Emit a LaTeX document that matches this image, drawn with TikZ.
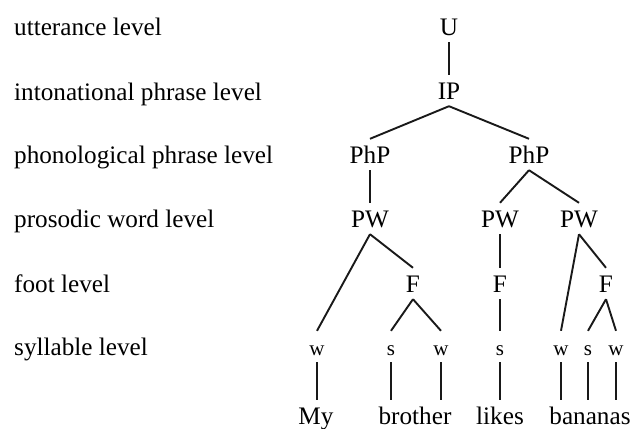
\documentclass[tikz,border=0pt]{standalone}
\usepackage{fontspec}
\setmainfont{Liberation Serif}
\begin{document}
\begin{tikzpicture}[x=1pt,y=-1pt,
  lbl/.style={anchor=base west,inner sep=0pt,font=\fontsize{25.2}{30}\selectfont},
  tn/.style={anchor=base,inner xsep=0pt,inner ysep=7pt,text height=17pt,text depth=0pt,font=\fontsize{25.2}{30}\selectfont},
  syl/.style={tn,font=\fontsize{21}{25}\selectfont},
  br/.style={line width=1.9pt,black!90}]
\useasboundingbox (0,0) rectangle (633,429);
% level labels
\node[lbl] (l1) at (14,35) {utterance level};
\node[lbl] (l2) at (14,100) {intonational phrase level};
\node[lbl] (l3) at (14,163) {phonological phrase level};
\node[lbl] (l4) at (14,227) {prosodic word level};
\node[lbl] (l5) at (14,292) {foot level};
\node[lbl] (l6) at (14,355) {syllable level};
% tree
\node[tn] (U) at (449,35) {U};
\node[tn] (IP) at (449,99) {IP};
\node[tn] (php1) at (370,163) {PhP};
\node[tn] (php2) at (529,163) {PhP};
\node[tn] (pw1) at (370,227) {PW};
\node[tn] (pw2) at (500,227) {PW};
\node[tn] (pw3) at (579,227) {PW};
\node[tn] (f1) at (413,292) {F};
\node[tn] (f2) at (500,292) {F};
\node[tn] (f3) at (606,292) {F};
\node[syl] (s1) at (317,355) {w};
\node[syl] (s2) at (391,355) {s};
\node[syl] (s3) at (441,355) {w};
\node[syl] (s4) at (500,355) {s};
\node[syl] (s5) at (561,355) {w};
\node[syl] (s6) at (588,355) {s};
\node[syl] (s7) at (616,355) {w};
\node[tn] (my) at (316,424) {My};
\node[tn] (brother) at (415,424) {brother};
\node[tn] (likes) at (500,424) {likes};
\node[tn] (bananas) at (590,424) {bananas};
% branches
\draw[br] (U.south) -- (IP.north);
\draw[br] (IP.south) -- (php1.north);
\draw[br] (IP.south) -- (php2.north);
\draw[br] (php1.south) -- (pw1.north);
\draw[br] (php2.south) -- (pw2.north);
\draw[br] (php2.south) -- (pw3.north);
\draw[br] (pw1.south) -- (s1.north);
\draw[br] (pw1.south) -- (f1.north);
\draw[br] (pw2.south) -- (f2.north);
\draw[br] (pw3.south) -- (s5.north);
\draw[br] (pw3.south) -- (f3.north);
\draw[br] (f1.south) -- (s2.north);
\draw[br] (f1.south) -- (s3.north);
\draw[br] (f2.south) -- (s4.north);
\draw[br] (f3.south) -- (s6.north);
\draw[br] (f3.south) -- (s7.north);
\draw[br] (s1.south) -- (s1.south |- my.north);
\draw[br] (s2.south) -- (s2.south |- brother.north);
\draw[br] (s3.south) -- (s3.south |- brother.north);
\draw[br] (s4.south) -- (s4.south |- likes.north);
\draw[br] (s5.south) -- (s5.south |- bananas.north);
\draw[br] (s6.south) -- (s6.south |- bananas.north);
\draw[br] (s7.south) -- (s7.south |- bananas.north);
\end{tikzpicture}
\end{document}
